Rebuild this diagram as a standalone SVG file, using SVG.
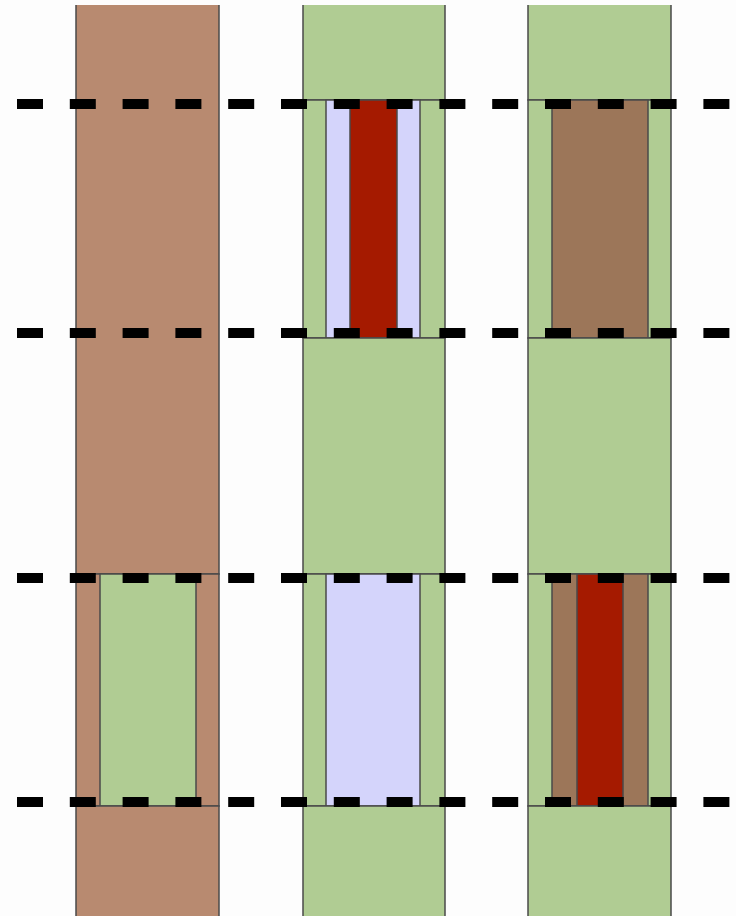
<svg xmlns="http://www.w3.org/2000/svg" width="736" height="916" viewBox="0 0 736 916">
<style>
.s{stroke:#4a4a4a;stroke-width:1.5}
.br{fill:#b88a70}
.db{fill:#9c7659}
.gr{fill:#b0cc93}
.lv{fill:#d4d4fb}
.rd{fill:#a51a00}
.bg{fill:#fdfdfd}
.dash{stroke:#000;stroke-width:10;stroke-dasharray:26 26.8;fill:none}
</style>
<rect class="bg" width="736" height="916"/>
<g id="col1">
<rect class="br s" x="76" y="-10" width="143" height="584"/>
<rect class="br s" x="76" y="574" width="143" height="232"/>
<rect class="gr s" x="100" y="574" width="96" height="232"/>
<rect class="br s" x="76" y="806" width="143" height="115"/>
</g>
<g id="col2">
<rect class="gr s" x="303" y="-10" width="142" height="110"/>
<rect class="gr s" x="303" y="100" width="142" height="238"/>
<rect class="lv s" x="326" y="100" width="94" height="238"/>
<rect class="rd s" x="350" y="100" width="47" height="238"/>
<rect class="gr s" x="303" y="338" width="142" height="236"/>
<rect class="gr s" x="303" y="574" width="142" height="232"/>
<rect class="lv s" x="326" y="574" width="94" height="232"/>
<rect class="gr s" x="303" y="806" width="142" height="115"/>
</g>
<g id="col3">
<rect class="gr s" x="528" y="-10" width="143" height="110"/>
<rect class="gr s" x="528" y="100" width="143" height="238"/>
<rect class="db s" x="552" y="100" width="96" height="238"/>
<rect class="gr s" x="528" y="338" width="143" height="236"/>
<rect class="gr s" x="528" y="574" width="143" height="232"/>
<rect class="db s" x="552" y="574" width="96" height="232"/>
<rect class="rd s" x="577" y="574" width="46" height="232"/>
<rect class="gr s" x="528" y="806" width="143" height="115"/>
</g>
<rect class="bg" x="0" y="0" width="736" height="5"/>
<g id="connectors">
<line class="dash" x1="17" y1="104" x2="736" y2="104"/>
<line class="dash" x1="17" y1="333" x2="736" y2="333"/>
<line class="dash" x1="17" y1="578" x2="736" y2="578"/>
<line class="dash" x1="17" y1="802" x2="736" y2="802"/>
</g>
</svg>
